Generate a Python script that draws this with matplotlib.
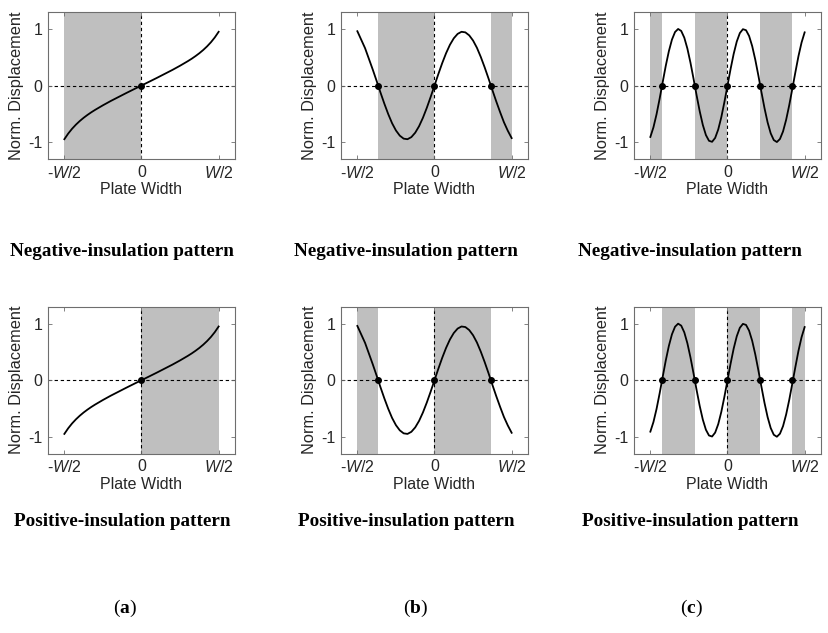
import matplotlib
matplotlib.use("Agg")
import matplotlib.pyplot as plt

plt.rcParams['font.family'] = ['Liberation Sans', 'DejaVu Sans']
plt.rcParams['mathtext.fontset'] = 'custom'
plt.rcParams['mathtext.it'] = 'Liberation Sans:italic'
plt.rcParams['mathtext.rm'] = 'Liberation Sans'
plt.rcParams['mathtext.bf'] = 'Liberation Serif:bold'

# mode shapes (x in plate widths)
x_a = [-0.5, -0.475, -0.45, -0.425, -0.4, -0.375, -0.35, -0.325, -0.3, -0.25, -0.2, -0.15,
       -0.1, -0.05, 0.0, 0.05, 0.1, 0.15, 0.2, 0.25, 0.3, 0.325, 0.35, 0.375, 0.4,
       0.425, 0.45, 0.475, 0.5]
y_a = [-0.95, -0.85, -0.765, -0.692, -0.628, -0.571, -0.52, -0.473, -0.43, -0.35, -0.275,
       -0.205, -0.135, -0.067, 0.0, 0.067, 0.135, 0.205, 0.275, 0.35, 0.43, 0.473, 0.52,
       0.571, 0.628, 0.692, 0.765, 0.85, 0.95]

x_b = [-0.5, -0.475, -0.45, -0.425, -0.4, -0.375, -0.35, -0.325, -0.3, -0.275, -0.25,
       -0.225, -0.2, -0.175, -0.15, -0.125, -0.1, -0.075, -0.05, -0.025,
       0.0, 0.025, 0.05, 0.075, 0.1, 0.125, 0.15, 0.175, 0.2, 0.225,
       0.25, 0.275, 0.3, 0.325, 0.35, 0.375, 0.4, 0.425, 0.45, 0.475, 0.5]
y_b = [0.96, 0.81, 0.66, 0.47, 0.28, 0.08, -0.125, -0.322, -0.505, -0.667, -0.795,
       -0.887, -0.94, -0.95, -0.913, -0.835, -0.72, -0.571, -0.396, -0.203,
       0.0, 0.203, 0.396, 0.571, 0.72, 0.835, 0.913, 0.95, 0.94, 0.887,
       0.795, 0.667, 0.505, 0.322, 0.125, -0.08, -0.28, -0.47, -0.65, -0.8, -0.93]

x_c = [-0.5, -0.48, -0.46, -0.44, -0.42, -0.4, -0.38, -0.36, -0.34, -0.32, -0.3,
       -0.28, -0.26, -0.24, -0.22, -0.2, -0.18, -0.16, -0.14, -0.12, -0.1,
       -0.08, -0.06, -0.04, -0.02, 0.0, 0.02, 0.04, 0.06, 0.08, 0.1,
       0.12, 0.14, 0.16, 0.18, 0.2, 0.22, 0.24, 0.26, 0.28, 0.3,
       0.32, 0.34, 0.36, 0.38, 0.4, 0.42, 0.44, 0.46, 0.48, 0.5]
y_c = [-0.91, -0.74, -0.51, -0.235, 0.06, 0.35, 0.607, 0.812, 0.946, 1.0, 0.965,
       0.846, 0.653, 0.403, 0.118, -0.177, -0.457, -0.697, -0.876, -0.978, -0.996,
       -0.927, -0.777, -0.559, -0.292, 0.0, 0.292, 0.559, 0.777, 0.927, 0.996,
       0.978, 0.876, 0.697, 0.457, 0.177, -0.118, -0.403, -0.653, -0.846, -0.965,
       -1.0, -0.946, -0.812, -0.607, -0.35, -0.06, 0.235, 0.52, 0.76, 0.94]

# zero crossings (nodal lines)
nodes_a = [0.0]
nodes_b = [-0.365, 0.0, 0.365]
nodes_c = [-0.424, -0.212, 0.0, 0.21, 0.418]

# insulated strips for the negative / positive patterns
neg_a = [(-0.5, 0.0)]
pos_a = [(0.0, 0.5)]
neg_b = [(-0.365, 0.0), (0.365, 0.5)]
pos_b = [(-0.5, -0.365), (0.0, 0.365)]
neg_c = [(-0.5, -0.424), (-0.212, 0.0), (0.21, 0.418)]
pos_c = [(-0.424, -0.212), (0.0, 0.21), (0.418, 0.5)]

captions = ['Negative-insulation pattern', 'Positive-insulation pattern']
letters = ['a', 'b', 'c']

curves = [(x_a, y_a, nodes_a), (x_b, y_b, nodes_b), (x_c, y_c, nodes_c)]
shades = [(neg_a, pos_a), (neg_b, pos_b), (neg_c, pos_c)]

fig = plt.figure(figsize=(8.29, 6.33), dpi=100)

lefts = [48, 341, 634]
tops = [12, 306.7]
W, H = 829.0, 633.0
aw, ah = 187, 147

for r in range(2):
    for c in range(3):
        ax = fig.add_axes([lefts[c] / W, (H - tops[r] - ah) / H, aw / W, ah / H])
        xs, ys, nodes = curves[c]
        for a, b in shades[c][r]:
            ax.axvspan(a, b, color='#bfbfbf', lw=0, zorder=0)
        ax.axhline(0, color='black', ls='--', lw=0.8, dashes=(3, 2.5), zorder=1)
        ax.axvline(0, color='black', ls='--', lw=0.8, dashes=(3, 2.5), zorder=1)
        ax.plot(xs, ys, color='black', lw=1.3, zorder=2)
        ax.plot(nodes, [0] * len(nodes), 'o', color='black', ms=4, zorder=3)
        ax.set_xlim(-0.606, 0.606)
        ax.set_ylim(-1.3, 1.3)
        ax.set_xticks([-0.5, 0, 0.5])
        ax.set_xticklabels(['-$W$/2', '0', '$W$/2'])
        ax.set_yticks([-1, 0, 1])
        ax.set_yticklabels(['-1', '0', '1'])
        ax.tick_params(direction='in', length=3, width=0.6, top=True, right=True,
                       labelsize=11.5, colors='#6e6e6e', labelcolor='#262626', pad=4)
        for s in ax.spines.values():
            s.set_color('#6e6e6e')
            s.set_linewidth(0.8)
        ax.set_xlabel('Plate Width', fontsize=11.5, color='#262626', labelpad=1)
        ax.set_ylabel('Norm. Displacement', fontsize=11.8, color='#262626', labelpad=3)

cap_x = [122, 406, 690]
cap_y = [252, 521]
for r in range(2):
    for c in range(3):
        fig.text(cap_x[c] / W, 1 - cap_y[r] / H, captions[r], ha='center', va='center',
                 fontsize=13.8, fontweight='bold', family='Liberation Serif')

let_x = [125, 416, 691]
for c in range(3):
    fig.text(let_x[c] / W, 1 - 608 / H, '($\\mathbf{%s}$)' % letters[c], ha='center',
             va='center', fontsize=14, family='Liberation Serif')

fig.savefig('out.png', dpi=100)
